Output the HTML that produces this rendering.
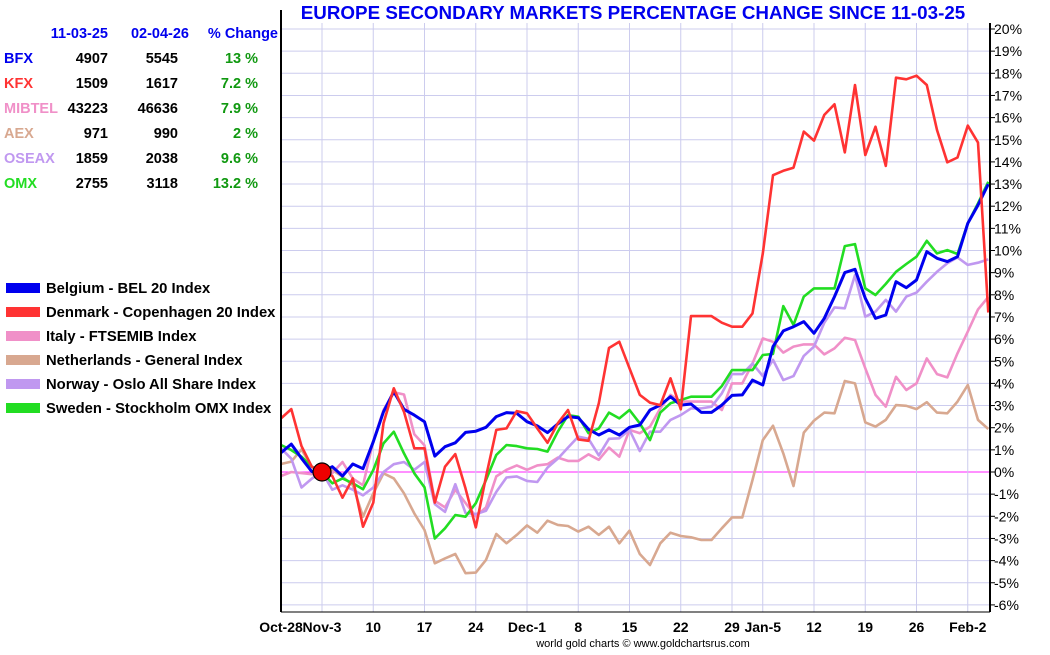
<!DOCTYPE html>
<html><head><meta charset="utf-8">
<style>
body{margin:0;background:#fff;width:1050px;height:650px;overflow:hidden;font-family:"Liberation Sans",Arial,sans-serif;}
svg text{font-family:"Liberation Sans",Arial,sans-serif;}
</style></head>
<body>
<svg id="chart" width="1050" height="650" xmlns="http://www.w3.org/2000/svg">
<g id="grid"></g>
<g id="series"></g>
<g id="axes"></g>
<text x="633" y="19" text-anchor="middle" font-size="18.8" font-weight="bold" fill="#0000ee">EUROPE SECONDARY MARKETS PERCENTAGE CHANGE SINCE 11-03-25</text>
<g id="table" font-size="14.5" font-weight="bold"></g>
<g id="legend" font-size="14.8" font-weight="bold"></g>
<text x="643" y="647" text-anchor="middle" font-size="11" fill="#000">world gold charts © www.goldchartsrus.com</text>
</svg>
<script>
const xLabels=["Oct-28","Nov-3","10","17","24","Dec-1","8","15","22","29","Jan-5","12","19","26","Feb-2"];
const xLabelIdx=[0,4,9,14,19,24,29,34,39,44,47,52,57,62,67];
const yTicks=[20,19,18,17,16,15,14,13,12,11,10,9,8,7,6,5,4,3,2,1,0,-1,-2,-3,-4,-5,-6];
const bfx=[0.87,1.26,0.62,0.02,0,0.24,-0.18,0.36,0.15,1.37,2.72,3.63,2.83,2.57,2.27,0.72,1.14,1.32,1.79,1.84,2.02,2.5,2.68,2.65,2.27,2.08,1.78,2.17,2.5,2.45,1.93,1.67,1.9,1.67,2.02,2.12,2.8,3.02,3.4,3.02,3.07,2.69,2.69,3.02,3.46,3.48,4.15,3.93,5.66,6.37,6.56,6.79,6.26,6.94,7.92,9.0,9.15,7.84,6.94,7.09,8.59,8.32,8.67,9.95,9.65,9.5,9.72,11.23,12.05,13.0];
const kfx=[2.42,2.84,1.17,0.24,0,-0.18,-1.16,-0.29,-2.47,-1.38,2.2,3.78,2.72,1.07,1.07,-1.38,0.24,0.81,-0.74,-2.5,-0.21,1.9,1.97,2.75,2.65,1.97,1.32,2.2,2.8,1.47,1.41,3.1,5.6,5.88,4.68,3.48,3.13,3.02,4.23,2.83,7.04,7.04,7.04,6.74,6.56,6.56,7.16,9.87,13.4,13.6,13.74,15.37,14.96,16.12,16.6,14.43,17.47,14.31,15.59,13.82,17.8,17.73,17.89,17.47,15.44,13.98,14.2,15.64,14.87,7.2];
const mibtel=[-0.18,0.0,-0.05,-0.1,0,-0.05,0.45,-0.3,-0.6,1.4,2.8,3.6,3.5,1.7,1.2,-1.3,-1.6,-0.8,-1.4,-2.0,-1.6,-0.2,0.1,0.3,0.1,0.3,0.35,0.65,0.5,0.5,0.8,0.55,1.1,0.69,1.9,1.75,2.05,2.87,3.48,3.18,3.18,3.18,3.18,2.8,4.0,4.0,4.9,6.03,5.88,5.39,5.66,5.76,5.76,5.31,5.58,6.06,5.96,4.68,3.48,2.95,4.3,3.7,4.0,5.13,4.42,4.27,5.36,6.34,7.34,7.9];
const aex=[0.36,0.47,1.02,0.24,0,0.09,-0.21,-0.59,-2.02,-0.96,-0.06,-0.29,-0.96,-1.87,-2.62,-4.12,-3.9,-3.7,-4.57,-4.54,-3.97,-2.8,-3.22,-2.84,-2.41,-2.74,-2.2,-2.39,-2.44,-2.69,-2.47,-2.84,-2.47,-3.22,-2.65,-3.7,-4.2,-3.22,-2.74,-2.89,-2.95,-3.07,-3.07,-2.54,-2.05,-2.05,-0.36,1.44,2.09,0.84,-0.63,1.78,2.32,2.68,2.65,4.11,4.0,2.24,2.05,2.35,3.02,2.99,2.84,3.15,2.68,2.65,3.18,3.93,2.35,1.94];
const oseax=[1.07,0.6,-0.7,-0.3,0,-0.8,-0.6,-0.8,-1.05,-0.7,0.0,0.35,0.45,0.1,0.45,-1.45,-1.8,-0.55,-1.85,-1.9,-1.75,-0.9,-0.25,-0.2,-0.4,-0.45,0.2,0.6,1.1,1.6,1.5,0.75,1.5,1.52,1.9,0.95,1.82,1.82,2.35,2.57,2.87,2.87,2.95,3.55,4.42,4.42,4.9,4.33,5.06,4.15,4.33,5.24,5.66,6.74,7.43,7.39,8.89,7.01,7.24,7.77,7.24,7.92,8.1,8.59,9.04,9.42,9.69,9.35,9.45,9.6];
const omx=[1.22,0.99,0.69,0.24,0,-0.51,-0.29,-0.51,-0.78,0.09,1.29,1.82,0.84,-0.06,-0.69,-3.0,-2.54,-1.94,-2.02,-1.41,-0.36,0.77,1.22,1.17,1.07,1.04,0.92,1.82,2.57,2.5,1.75,1.97,2.68,2.42,2.8,2.2,1.44,2.68,3.1,3.25,3.4,3.4,3.4,3.88,4.6,4.6,4.6,5.28,5.33,7.49,6.64,7.92,8.29,8.29,8.29,10.2,10.29,8.29,7.99,8.49,9.04,9.39,9.72,10.44,9.87,10.02,9.84,11.23,12.13,13.1];
const tickers=["BFX","KFX","MIBTEL","AEX","OSEAX","OMX"];
const startVals=["4907","1509","43223","971","1859","2755"];
const endVals=["5545","1617","46636","990","2038","3118"];
const pctVals=["13 %","7.2 %","7.9 %","2 %","9.6 %","13.2 %"];
const legendNames=["Belgium - BEL 20 Index","Denmark - Copenhagen 20 Index","Italy - FTSEMIB Index","Netherlands - General Index","Norway -  Oslo All Share Index","Sweden -  Stockholm OMX Index"];
const colors=["#0000ee","#ff3333","#f090c8","#d8a890","#c098f0","#22dd22"];
const seriesData=[bfx,kfx,mibtel,aex,oseax,omx];
const NS="http://www.w3.org/2000/svg";
const X0=281,X1=990,DX=10.25,Y0=472,PY=22.15,YTOP=23,YBOT=612;
function xs(i){return X0+i*DX;}
function ys(v){return Y0-v*PY;}
function mk(tag,attrs,parent,txt){const e=document.createElementNS(NS,tag);for(const k in attrs)e.setAttribute(k,attrs[k]);if(txt!==undefined)e.textContent=txt;parent.appendChild(e);return e;}
const grid=document.getElementById('grid'),axes=document.getElementById('axes'),ser=document.getElementById('series');
yTicks.forEach(t=>{
  const l=mk('line',{x1:X0,x2:X1,y1:ys(t),y2:ys(t),stroke:t===0?'#ff22ff':'#ccccee','stroke-width':1},grid);
  
  
  const tk=mk('line',{x1:X1,x2:X1+5,y1:ys(t),y2:ys(t),stroke:'#000'},axes);
  
  
  const tx=mk('text',{x:X1+4,y:ys(t)+5,'font-size':14,fill:'#000'},axes,t+'%');
  
  
});
xLabels.forEach((lab,k)=>{
  const x=xs(xLabelIdx[k]);
  const l=mk('line',{x1:x,x2:x,y1:YTOP,y2:YBOT,stroke:'#ccccee'},grid);
  
  
  const tx=mk('text',{x:x,y:632,'font-size':14,'font-weight':'bold','text-anchor':'middle',fill:'#000'},axes,lab);
  
  
});
const la=mk('line',{x1:X0,x2:X0,y1:10,y2:YBOT,stroke:'#000','stroke-width':2},axes);


const ra=mk('line',{x1:X1,x2:X1,y1:YTOP,y2:YBOT,stroke:'#000','stroke-width':2},axes);


const ba=mk('line',{x1:X0,x2:X1,y1:YBOT,y2:YBOT,stroke:'#000','stroke-width':1},axes);


const order=[3,2,4,5,0,1];
order.forEach(s=>{
  const d=seriesData[s].map((v,i)=>(i?'L':'M')+xs(i).toFixed(1)+' '+ys(v).toFixed(1)).join(' ');
  const p=mk('path',{d:d,fill:'none',stroke:colors[s],'stroke-width':s===0?3:2.6,'stroke-linejoin':'round'},ser);
  
  
});
const dot=mk('circle',{cx:xs(4),cy:ys(0),r:9,fill:'#ee0000',stroke:'#000','stroke-width':1.2},ser);


const tb=document.getElementById('table');
[["11-03-25",108],["02-04-26",189],["% Change",278]].forEach(h=>{
  const t=mk('text',{x:h[1],y:38,'text-anchor':'end',fill:'#0000ee'},tb,h[0]);
  
  
});
tickers.forEach((tk,r)=>{
  const y=63+r*25;
  const a=mk('text',{x:4,y:y,fill:colors[r]},tb,tk);
  
  
  const b=mk('text',{x:108,y:y,'text-anchor':'end',fill:'#000'},tb,startVals[r]);
  
  
  const c=mk('text',{x:178,y:y,'text-anchor':'end',fill:'#000'},tb,endVals[r]);
  
  
  const e=mk('text',{x:258,y:y,'text-anchor':'end',fill:'#119911'},tb,pctVals[r]);
  
  
});
const lg=document.getElementById('legend');
legendNames.forEach((n,r)=>{
  const y=288+r*24;
  const s=mk('rect',{x:6,y:y-5,width:34,height:10,fill:colors[r]},lg);
  
  
  const t=mk('text',{x:46,y:y+5,fill:'#000'},lg,n);
  
  
});
</script>
</body></html>
